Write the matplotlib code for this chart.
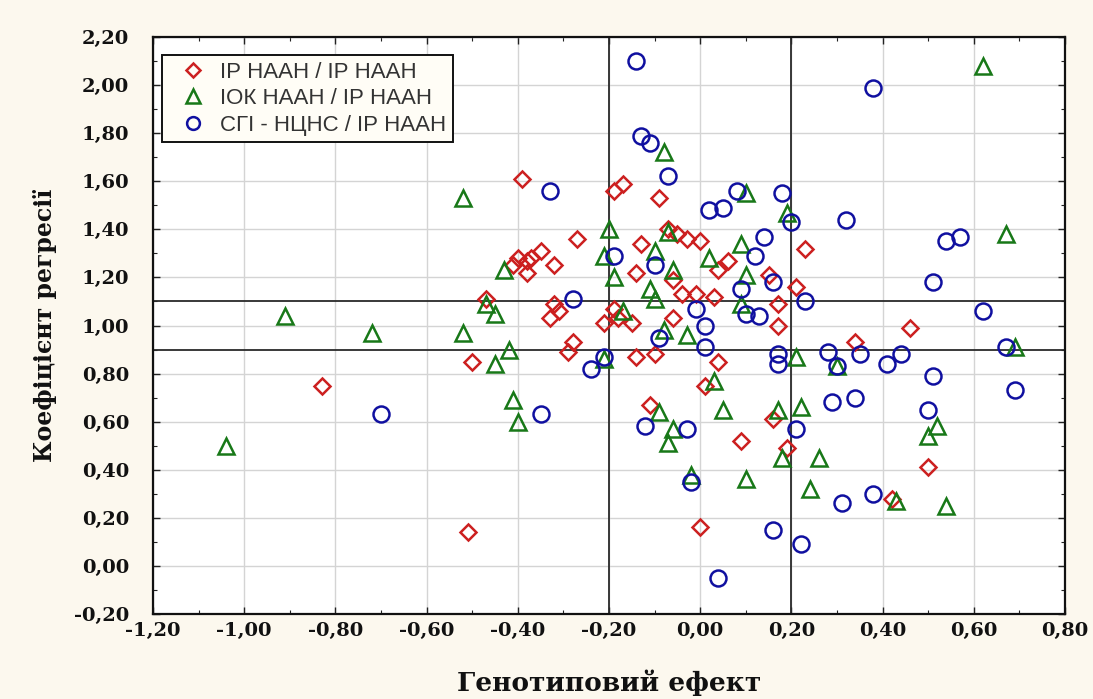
import matplotlib
matplotlib.use("Agg")
import matplotlib.pyplot as plt
from matplotlib.ticker import MultipleLocator, FuncFormatter

# ---- data ----
series_names = ["ІР НААН / ІР НААН", "ІОК НААН / ІР НААН", "СГІ - НЦНС / ІР НААН"]

red_x = [-0.83, -0.51, -0.50, -0.47, -0.39, -0.41, -0.40, -0.38, -0.38, -0.37,
         -0.35, -0.32, -0.32, -0.31, -0.33, -0.28, -0.29, -0.27, -0.19, -0.17,
         -0.19, -0.21, -0.18, -0.15, -0.14, -0.14, -0.13, -0.09, -0.07, -0.05,
         -0.03, 0.00, 0.06, 0.04, -0.06, 0.15, 0.21, 0.23, -0.04, -0.01,
         0.03, 0.17, -0.06, 0.17, -0.10, 0.04, 0.01, -0.11, 0.16, 0.09,
         0.19, 0.00, 0.46, 0.34, 0.42, 0.50]
red_y = [0.75, 0.14, 0.85, 1.11, 1.61, 1.25, 1.28, 1.27, 1.22, 1.28,
         1.31, 1.25, 1.09, 1.06, 1.03, 0.93, 0.89, 1.36, 1.56, 1.59,
         1.07, 1.01, 1.03, 1.01, 0.87, 1.22, 1.34, 1.53, 1.40, 1.38,
         1.36, 1.35, 1.27, 1.23, 1.19, 1.21, 1.16, 1.32, 1.13, 1.13,
         1.12, 1.09, 1.03, 1.00, 0.88, 0.85, 0.75, 0.67, 0.61, 0.52,
         0.49, 0.16, 0.99, 0.93, 0.28, 0.41]

green_x = [-1.04, -0.91, -0.72, -0.52, -0.52, -0.47, -0.45, -0.43, -0.42, -0.45,
           -0.41, -0.40, -0.20, -0.21, -0.19, -0.17, -0.21, -0.08, 0.10, 0.19,
           -0.07, -0.10, 0.09, 0.02, -0.06, -0.11, -0.10, 0.10, 0.09, -0.08,
           -0.03, 0.21, 0.03, -0.09, 0.05, 0.17, 0.22, -0.06, -0.07, 0.18,
           0.26, -0.02, 0.10, 0.24, 0.62, 0.67, 0.30, 0.69, 0.52, 0.50,
           0.43, 0.54]
green_y = [0.50, 1.04, 0.97, 1.53, 0.97, 1.09, 1.05, 1.23, 0.90, 0.84,
           0.69, 0.60, 1.40, 1.29, 1.20, 1.06, 0.86, 1.72, 1.55, 1.47,
           1.39, 1.31, 1.34, 1.28, 1.23, 1.15, 1.11, 1.21, 1.09, 0.98,
           0.96, 0.87, 0.77, 0.64, 0.65, 0.65, 0.66, 0.57, 0.51, 0.45,
           0.45, 0.38, 0.36, 0.32, 2.08, 1.38, 0.83, 0.91, 0.58, 0.54,
           0.27, 0.25]

blue_x = [-0.70, -0.35, -0.33, -0.28, -0.21, -0.24, -0.19, -0.14, -0.13, -0.11,
          -0.07, -0.10, -0.09, -0.12, -0.03, -0.02, 0.04, 0.02, 0.05, 0.08,
          0.18, 0.20, 0.14, 0.12, 0.09, 0.16, 0.23, 0.10, 0.13, -0.01,
          0.01, 0.01, 0.17, 0.17, 0.21, 0.16, 0.22, 0.38, 0.32, 0.54,
          0.57, 0.51, 0.62, 0.28, 0.35, 0.44, 0.41, 0.30, 0.67, 0.51,
          0.69, 0.29, 0.34, 0.50, 0.31, 0.38]
blue_y = [0.63, 0.63, 1.56, 1.11, 0.87, 0.82, 1.29, 2.10, 1.79, 1.76,
          1.62, 1.25, 0.95, 0.58, 0.57, 0.35, -0.05, 1.48, 1.49, 1.56,
          1.55, 1.43, 1.37, 1.29, 1.15, 1.18, 1.10, 1.05, 1.04, 1.07,
          1.00, 0.91, 0.88, 0.84, 0.57, 0.15, 0.09, 1.99, 1.44, 1.35,
          1.37, 1.18, 1.06, 0.89, 0.88, 0.88, 0.84, 0.83, 0.91, 0.79,
          0.73, 0.68, 0.70, 0.65, 0.26, 0.30]

ref_x = [-0.20, 0.20]
ref_y = [0.90, 1.10]

x_label = "Генотиповий ефект"
y_label = "Коефіцієнт регресії"

# ---- figure ----
fig = plt.figure(figsize=(10.93, 6.99), dpi=100, facecolor="#fcf8ee")
ax = fig.add_axes([0.140, 0.1216, 0.8344, 0.8254])
ax.set_facecolor("white")

ax.set_xlim(-1.2, 0.8)
ax.set_ylim(-0.2, 2.2)
ax.xaxis.set_major_locator(MultipleLocator(0.2))
ax.yaxis.set_major_locator(MultipleLocator(0.2))
ax.xaxis.set_minor_locator(MultipleLocator(0.1))
ax.yaxis.set_minor_locator(MultipleLocator(0.1))

def fmt(v, pos):
    if abs(v) < 1e-9:
        v = 0.0
    return f"{v:.2f}".replace(".", ",")

ax.xaxis.set_major_formatter(FuncFormatter(fmt))
ax.yaxis.set_major_formatter(FuncFormatter(fmt))

ax.grid(True, which="major", color="#d4d4d4", linewidth=1.0, zorder=0)
ax.set_axisbelow(True)

for v in ref_x:
    ax.axvline(v, color="#2a2a2a", linewidth=1.3, zorder=1)
for v in ref_y:
    ax.axhline(v, color="#2a2a2a", linewidth=1.3, zorder=1)

lw = 1.8
ax.plot(red_x, red_y, linestyle="none", marker="D", markersize=8.3,
        markerfacecolor="none", markeredgecolor="#cc2020", markeredgewidth=lw,
        label=series_names[0], zorder=3)
ax.plot(green_x, green_y, linestyle="none", marker="^", markersize=12,
        markerfacecolor="none", markeredgecolor="#187818", markeredgewidth=lw,
        label=series_names[1], zorder=3)
ax.plot(blue_x, blue_y, linestyle="none", marker="o", markersize=11.5,
        markerfacecolor="none", markeredgecolor="#1010a0", markeredgewidth=lw,
        label=series_names[2], zorder=3)

serif_fam = ["DejaVu Serif", "Liberation Serif"]
for lab in ax.get_xticklabels() + ax.get_yticklabels():
    lab.set_fontfamily(serif_fam)
    lab.set_fontweight("bold")
    lab.set_fontsize(14)
    lab.set_color("#111111")

ax.tick_params(which="both", direction="in", top=True, right=True,
               color="#222222")
ax.tick_params(which="major", length=5, width=1.0)
ax.tick_params(axis="y", which="major", pad=17)
ax.tick_params(axis="x", which="major", pad=6)
ax.tick_params(which="minor", length=3, width=0.8)

for s in ax.spines.values():
    s.set_linewidth(1.6)
    s.set_color("#111111")

ax.set_xlabel(x_label, fontsize=19, family=serif_fam, weight="bold", color="#111111")
ax.set_ylabel(y_label, fontsize=17, family=serif_fam, weight="bold", color="#111111")
ax.xaxis.set_label_coords(0.5, -0.096)
ax.yaxis.set_label_coords(-0.105, 0.5)

leg = ax.legend(loc="upper left", bbox_to_anchor=(0.0099, 0.969),
                borderaxespad=0, frameon=True, fancybox=False,
                prop={"family": ["Liberation Sans", "DejaVu Sans"], "size": 16},
                markerscale=0.8, handletextpad=0.1, labelspacing=0.25,
                borderpad=0.3, handlelength=2.2)
leg.get_frame().set_edgecolor("#111111")
leg.get_frame().set_linewidth(1.4)
leg.get_frame().set_facecolor("#fffdf6")
leg.get_frame().set_alpha(1.0)
for t in leg.get_texts():
    t.set_color("#333333")

fig.savefig("out.png", dpi=100, facecolor=fig.get_facecolor())
